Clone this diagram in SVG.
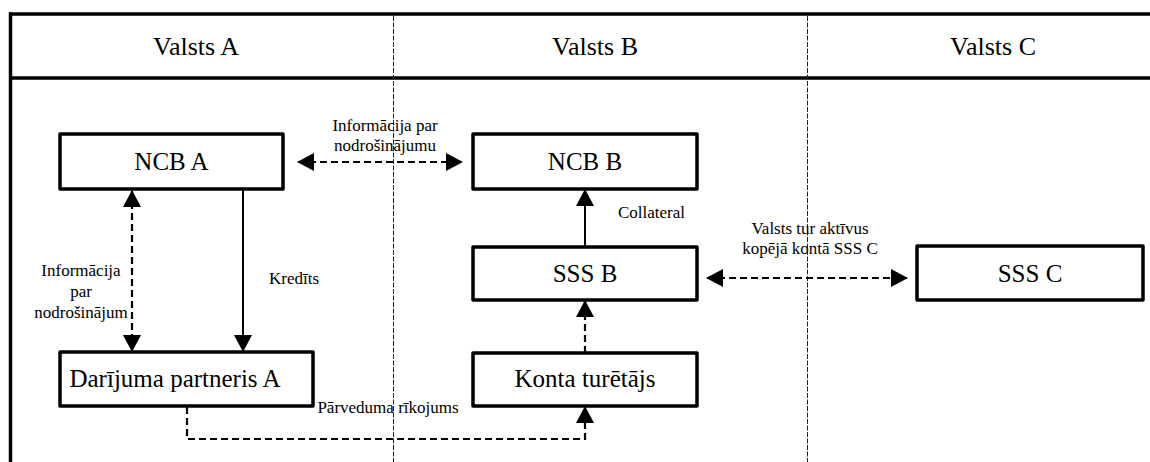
<svg xmlns="http://www.w3.org/2000/svg" width="1150" height="462" viewBox="0 0 1150 462">
<style>
text{font-family:'Liberation Serif','DejaVu Serif',serif;fill:#000}
.hdr{font-size:26px;text-anchor:middle}
.nt{font-size:25px;text-anchor:middle}
.lb{font-size:17px}
.box{fill:#fff;stroke:#000;stroke-width:3.5;stroke-linejoin:round}
.frame{stroke:#000;stroke-width:3.5;fill:none}
.div{stroke:#222;stroke-width:1;stroke-dasharray:5 1.5;fill:none}
.solid{stroke:#000;stroke-width:2;fill:none}
.dash{stroke:#000;stroke-width:2.2;fill:none;stroke-dasharray:7 4}
</style>
<defs>
<marker id="ah" viewBox="0 0 17 18" refX="16" refY="9" markerWidth="17" markerHeight="18" markerUnits="userSpaceOnUse" orient="auto-start-reverse">
<path d="M0,0 L17,9 L0,18 Z" fill="#000"/>
</marker>
</defs>
<rect width="1150" height="462" fill="#fff"/>
<g id="frame">
<line class="frame" x1="9" y1="14" x2="1150" y2="14"/>
<line class="frame" x1="9" y1="78" x2="1150" y2="78"/>
<line class="frame" x1="10.5" y1="12.5" x2="10.5" y2="462"/>
<line class="div" x1="393.5" y1="16" x2="393.5" y2="462"/>
<line class="div" x1="807.5" y1="16" x2="807.5" y2="462"/>
<text class="hdr" x="196" y="55">Valsts A</text>
<text class="hdr" x="595" y="55">Valsts B</text>
<text class="hdr" x="993" y="55">Valsts C</text>
</g>
<g id="connectors">
<path class="dash" d="M298,162 H462" marker-start="url(#ah)" marker-end="url(#ah)"/>
<path class="dash" d="M132,191 V351" marker-start="url(#ah)" marker-end="url(#ah)"/>
<path class="solid" d="M243,189 V351" marker-end="url(#ah)"/>
<path class="solid" d="M585,247 V190" marker-end="url(#ah)"/>
<path class="dash" d="M585,353 V301" marker-end="url(#ah)"/>
<path class="dash" d="M707,278 H907" marker-start="url(#ah)" marker-end="url(#ah)"/>
<path class="dash" d="M187,407 V439 H585 V407" marker-end="url(#ah)"/>
<text class="lb" x="385" y="131" text-anchor="middle">Informācija par</text>
<text class="lb" x="385" y="151" text-anchor="middle">nodrošinājumu</text>
<text class="lb" x="81" y="276" text-anchor="middle">Informācija</text>
<text class="lb" x="81" y="297" text-anchor="middle">par</text>
<text class="lb" x="81" y="318" text-anchor="middle">nodrošinājum</text>
<text class="lb" x="269" y="284">Kredīts</text>
<text class="lb" x="618" y="218">Collateral</text>
<text class="lb" x="810" y="234" text-anchor="middle">Valsts tur aktīvus</text>
<text class="lb" x="810" y="254" text-anchor="middle">kopējā kontā SSS C</text>
<text class="lb" x="388" y="413" text-anchor="middle">Pārveduma rīkojums</text>
</g>
<g id="ncb-a"><rect class="box" x="60" y="134" width="223" height="55"/><text class="nt" x="171.5" y="170">NCB A</text></g>
<g id="ncb-b"><rect class="box" x="473" y="134" width="224" height="55"/><text class="nt" x="585" y="170">NCB B</text></g>
<g id="sss-b"><rect class="box" x="473" y="247" width="224" height="53"/><text class="nt" x="585" y="282">SSS B</text></g>
<g id="sss-c"><rect class="box" x="917" y="246" width="226" height="54"/><text class="nt" x="1030" y="282">SSS C</text></g>
<g id="darijuma"><rect class="box" x="60" y="352" width="253" height="54"/><text class="nt" x="175" y="387">Darījuma partneris A</text></g>
<g id="konta"><rect class="box" x="473" y="353" width="224" height="53"/><text class="nt" x="585" y="387">Konta turētājs</text></g>
</svg>
